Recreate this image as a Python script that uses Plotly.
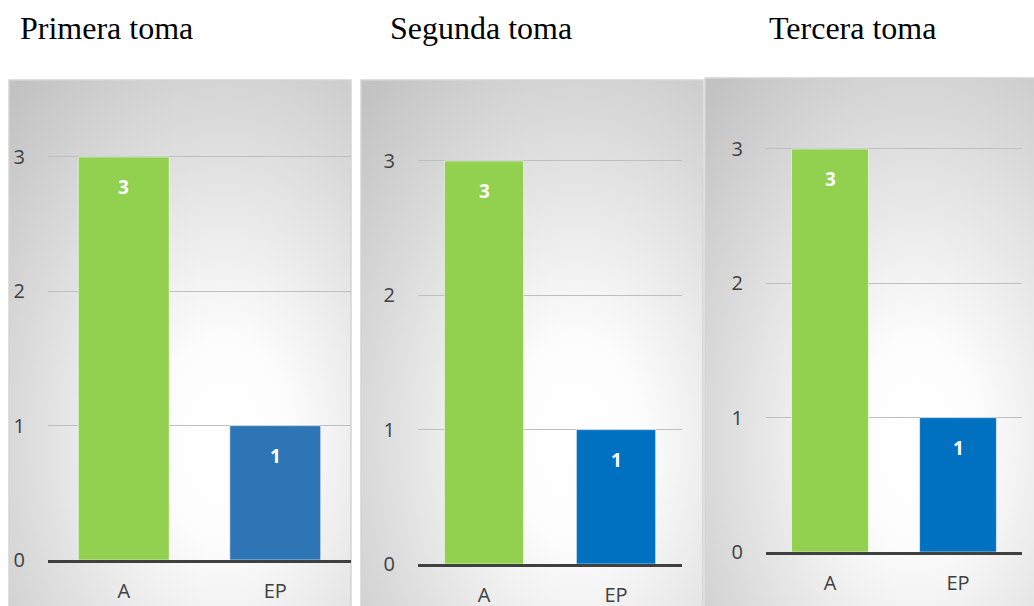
import urllib.parse

import plotly.graph_objects as go

W, H = 1034, 606

categories = ["A", "EP"]
titles = ["Primera toma", "Segunda toma", "Tercera toma"]
primera_toma = [3, 1]
segunda_toma = [3, 1]
tercera_toma = [3, 1]
series = [primera_toma, segunda_toma, tercera_toma]
bar_colors = [["#92D050", "#2E75B6"], ["#92D050", "#0070C0"], ["#92D050", "#0070C0"]]

# pixel layout of each panel: box, plot x-span, y pixel of 0 and of 3, title x
panels = [
    dict(box=(9, 80, 351, 612), xs=(48, 351), y0=560, y3=157, tx=18),
    dict(box=(361, 80, 703, 612), xs=(418, 682), y0=564, y3=161, tx=388),
    dict(box=(705, 78, 1040, 612), xs=(766, 1022), y0=552, y3=149, tx=767),
]
Y_MAX = 3.25


def px_x(p):
    return p / W


def px_y(p):
    return 1 - p / H


svg = (
    '<svg xmlns="http://www.w3.org/2000/svg" width="100" height="100" '
    'viewBox="0 0 100 100" preserveAspectRatio="none">'
    '<defs><radialGradient id="g" cx="63%" cy="68%" r="90%">'
    '<stop offset="0%" stop-color="#ffffff"/>'
    '<stop offset="22%" stop-color="#fcfcfc"/>'
    '<stop offset="100%" stop-color="#c2c2c2"/>'
    '</radialGradient></defs>'
    '<rect width="100" height="100" fill="url(#g)"/></svg>'
)
bg_src = "data:image/svg+xml;charset=utf-8," + urllib.parse.quote(svg)

fig = go.Figure()
images, shapes, annotations = [], [], []

for i, (vals, cols, p) in enumerate(zip(series, bar_colors, panels)):
    n = "" if i == 0 else str(i + 1)
    fig.add_trace(go.Bar(
        x=categories, y=vals, xaxis="x" + n, yaxis="y" + n,
        marker=dict(color=cols, line=dict(color="rgba(255,255,255,0.55)", width=1)),
        width=0.6, showlegend=False, hoverinfo="x+y",
    ))
    for c, v in zip(categories, vals):
        annotations.append(dict(
            x=c, y=v, xref="x" + n, yref="y" + n, yshift=-30, showarrow=False,
            text="<b>%d</b>" % v, font=dict(family="Open Sans", size=19, color="white"),
        ))

    y_top = p["y0"] - Y_MAX * (p["y0"] - p["y3"]) / 3
    fig.layout["xaxis" + n] = dict(
        domain=[px_x(p["xs"][0]), px_x(p["xs"][1])], anchor="y" + n, automargin=False,
        range=[-0.5, 1.5], showgrid=False, showline=True, linecolor="#404040", linewidth=3,
        ticks="outside", ticklen=11, tickcolor="rgba(0,0,0,0)",
        tickfont=dict(family="Open Sans", size=20, color="#404040"), fixedrange=True,
    )
    fig.layout["yaxis" + n] = dict(
        domain=[px_y(p["y0"]), px_y(y_top)], anchor="x" + n, automargin=False,
        range=[0, Y_MAX], tickvals=[0, 1, 2, 3], showgrid=True, gridcolor="#bfbfbf", gridwidth=1,
        zeroline=False, showline=False, ticks="outside", ticklen=18, tickcolor="rgba(0,0,0,0)",
        tickfont=dict(family="Open Sans", size=20, color="#404040"), fixedrange=True,
    )

    x0, y0, x1, y1 = p["box"]
    images.append(dict(
        source=bg_src, xref="paper", yref="paper", x=px_x(x0), y=px_y(y0),
        sizex=(x1 - x0) / W, sizey=(y1 - y0) / H, sizing="stretch",
        xanchor="left", yanchor="top", layer="below",
    ))
    shapes.append(dict(
        type="rect", xref="paper", yref="paper", x0=px_x(x0), x1=px_x(x1),
        y0=px_y(y1), y1=px_y(y0), line=dict(color="#d4d4d4", width=1.5), layer="below",
    ))
    annotations.append(dict(
        x=px_x(p["tx"]), y=px_y(28), xref="paper", yref="paper", xanchor="left", yanchor="middle",
        showarrow=False, text=titles[i],
        font=dict(family="Liberation Serif", size=32, color="black"),
    ))

fig.update_layout(
    width=W, height=H, margin=dict(l=0, r=0, t=0, b=0),
    paper_bgcolor="white", plot_bgcolor="rgba(0,0,0,0)",
    images=images, shapes=shapes, annotations=annotations, bargap=0.4,
)

# drop the page's default body margin so the figure fills the window
fig.write_html(
    "out.html",
    config={"displayModeBar": False},
    post_script="document.body.style.margin='0';",
)
